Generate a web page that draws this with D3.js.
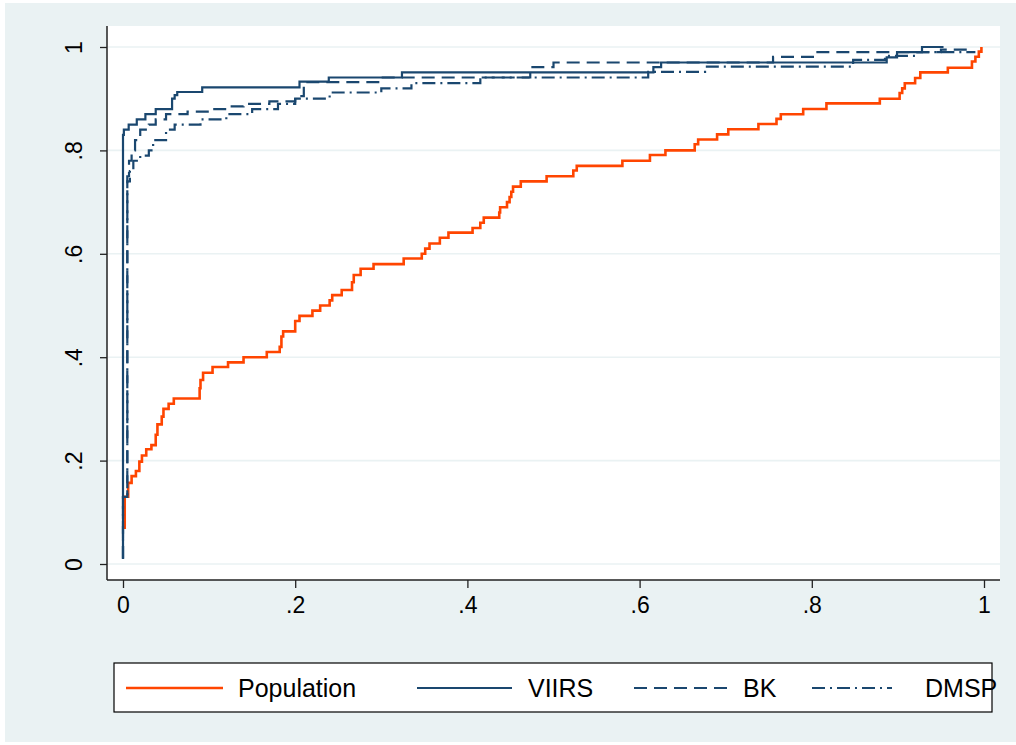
<!DOCTYPE html>
<html>
<head>
<meta charset="utf-8">
<script src="https://cdn.jsdelivr.net/npm/d3@7"></script>
<style>
  body { margin: 0; background: #fff; }
  text { font-family: "Liberation Sans", Arial, Helvetica, sans-serif; fill: #000; }
</style>
</head>
<body>
<div class="chart"></div>
<script>
// step points [x, y]: at x the curve jumps to y
let population = [
  [0, 0.07], [0.002, 0.13], [0.006, 0.157], [0.01, 0.17], [0.015, 0.18], [0.019, 0.198],
  [0.022, 0.21], [0.027, 0.222], [0.033, 0.23], [0.038, 0.25], [0.04, 0.27], [0.045, 0.285],
  [0.047, 0.30], [0.053, 0.31], [0.059, 0.32], [0.089, 0.34], [0.09, 0.356], [0.093, 0.37],
  [0.104, 0.381], [0.122, 0.39], [0.14, 0.40], [0.167, 0.41], [0.182, 0.42], [0.184, 0.44],
  [0.186, 0.45], [0.2, 0.47], [0.205, 0.48], [0.22, 0.49], [0.229, 0.50], [0.24, 0.51],
  [0.243, 0.52], [0.254, 0.53], [0.266, 0.545], [0.268, 0.559], [0.276, 0.571], [0.291, 0.58],
  [0.326, 0.591], [0.347, 0.60], [0.351, 0.61], [0.356, 0.62], [0.368, 0.631], [0.378, 0.641],
  [0.406, 0.65], [0.415, 0.66], [0.419, 0.67], [0.437, 0.68], [0.438, 0.69], [0.446, 0.70],
  [0.449, 0.71], [0.451, 0.72], [0.453, 0.73], [0.462, 0.74], [0.492, 0.75], [0.523, 0.761],
  [0.527, 0.77], [0.58, 0.78], [0.612, 0.791], [0.63, 0.80], [0.664, 0.812], [0.668, 0.821],
  [0.69, 0.831], [0.703, 0.841], [0.738, 0.851], [0.759, 0.861], [0.764, 0.87], [0.79, 0.88],
  [0.817, 0.891], [0.879, 0.90], [0.902, 0.911], [0.905, 0.92], [0.908, 0.93], [0.92, 0.94],
  [0.926, 0.951], [0.958, 0.96], [0.986, 0.972], [0.99, 0.981], [0.994, 0.991], [0.997, 1.0]
];

let viirs = [
  [0, 0.01], [0, 0.83], [0.001, 0.84], [0.0066, 0.85], [0.016, 0.86], [0.026, 0.87],
  [0.038, 0.88], [0.057, 0.90], [0.06, 0.907], [0.063, 0.913], [0.092, 0.922], [0.205, 0.933],
  [0.239, 0.941], [0.324, 0.951], [0.616, 0.961], [0.625, 0.97], [0.887, 0.98], [0.899, 0.99],
  [0.928, 1.0], [0.953, 1.0]
];

let bk = [
  [0, 0.01], [0, 0.13], [0.005, 0.13], [0.005, 0.75], [0.007, 0.78], [0.01, 0.80],
  [0.014, 0.82], [0.02, 0.84], [0.03, 0.85], [0.038, 0.86], [0.05, 0.87], [0.075, 0.875],
  [0.1, 0.88], [0.12, 0.885], [0.14, 0.89], [0.17, 0.895], [0.2, 0.905], [0.21, 0.932],
  [0.298, 0.941], [0.473, 0.961], [0.5, 0.97], [0.755, 0.981], [0.804, 0.99], [0.95, 0.99],
  [0.95, 0.995], [0.985, 0.995]
];

let dmsp = [
  [0, 0.01], [0, 0.13], [0.005, 0.13], [0.005, 0.74], [0.008, 0.76], [0.012, 0.78],
  [0.02, 0.79], [0.03, 0.80], [0.035, 0.82], [0.05, 0.84], [0.06, 0.85], [0.09, 0.86],
  [0.12, 0.87], [0.15, 0.88], [0.18, 0.89], [0.2, 0.90], [0.24, 0.912], [0.3, 0.92],
  [0.335, 0.93], [0.415, 0.941], [0.61, 0.952], [0.676, 0.962], [0.848, 0.975],
  [0.885, 0.983], [0.92, 0.99], [0.99, 0.99]
];

let seriesNames = ["Population", "VIIRS", "BK", "DMSP"];
let xTicks = [0, 0.2, 0.4, 0.6, 0.8, 1];
let yTicks = [0, 0.2, 0.4, 0.6, 0.8, 1];

let svgWidth = 1016;
let svgHeight = 745;
let plot = { left: 107, right: 1000, top: 26, bottom: 580 };

let navy = "#1a476f";
let orange = "#ff4500";
let grid = "#eaf2f3";

let svg = d3.select(".chart")
  .append("svg")
  .attr("width", svgWidth)
  .attr("height", svgHeight);

svg.append("rect")
  .attr("x", 5).attr("y", 3)
  .attr("width", svgWidth - 5).attr("height", svgHeight - 6)
  .attr("fill", "#eaf2f3");

svg.append("rect")
  .attr("x", plot.left).attr("y", plot.top)
  .attr("width", plot.right - plot.left).attr("height", plot.bottom - plot.top)
  .attr("fill", "#fff");

let xScale = d3.scaleLinear().domain([0, 1]).range([123, 984]);
let yScale = d3.scaleLinear().domain([0, 1]).range([564, 47]);

let fmt = d => (d === 0 || d === 1) ? String(d) : d3.format(".1f")(d).replace(/^0/, "");

// grid lines
svg.append("g")
  .selectAll("line")
  .data(yTicks)
  .enter()
  .append("line")
  .attr("x1", plot.left + 1).attr("x2", plot.right)
  .attr("y1", d => yScale(d)).attr("y2", d => yScale(d))
  .attr("stroke", grid)
  .attr("stroke-width", 1.6);

// axes
let leftAxis = d3.axisLeft(yScale).tickValues(yTicks).tickSize(7).tickFormat(fmt);
let bottomAxis = d3.axisBottom(xScale).tickValues(xTicks).tickSize(8).tickFormat(fmt);

let yAxisG = svg.append("g")
  .attr("transform", `translate(${plot.left}, 0)`)
  .call(leftAxis);
yAxisG.select(".domain").remove();
yAxisG.selectAll("line").attr("stroke", "#222").attr("stroke-width", 1.3);
yAxisG.selectAll("text")
  .attr("transform", "rotate(-90)")
  .attr("x", 0)
  .attr("y", -25)
  .attr("dy", 0)
  .attr("text-anchor", "middle")
  .style("font-size", "23px")
  .style("font-family", "'Liberation Sans', Arial, sans-serif");

let xAxisG = svg.append("g")
  .attr("transform", `translate(0, ${plot.bottom})`)
  .call(bottomAxis);
xAxisG.select(".domain").remove();
xAxisG.selectAll("line").attr("stroke", "#222").attr("stroke-width", 1.3);
xAxisG.selectAll("text")
  .attr("y", 33)
  .attr("dy", 0)
  .style("font-size", "23px")
  .style("font-family", "'Liberation Sans', Arial, sans-serif");

// axis lines
svg.append("line")
  .attr("x1", plot.left).attr("x2", plot.left)
  .attr("y1", plot.top).attr("y2", plot.bottom)
  .attr("stroke", "#222").attr("stroke-width", 1.5);
svg.append("line")
  .attr("x1", plot.left).attr("x2", plot.right)
  .attr("y1", plot.bottom).attr("y2", plot.bottom)
  .attr("stroke", "#222").attr("stroke-width", 1.5);

let styles = [
  { data: population, color: orange, width: 2.6, dash: null },
  { data: viirs, color: navy, width: 2.2, dash: null },
  { data: bk, color: navy, width: 2.2, dash: "13,7" },
  { data: dmsp, color: navy, width: 2.2, dash: "13,5,2,5" }
];

let line = d3.line()
  .x(d => xScale(d[0]))
  .y(d => yScale(d[1]))
  .curve(d3.curveStepAfter);

svg.append("g")
  .selectAll("path")
  .data(styles)
  .enter()
  .append("path")
  .attr("d", d => line(d.data))
  .attr("fill", "none")
  .attr("stroke", d => d.color)
  .attr("stroke-width", d => d.width)
  .attr("stroke-dasharray", d => d.dash);

// legend
svg.append("rect")
  .attr("x", 114).attr("y", 663)
  .attr("width", 878).attr("height", 49)
  .attr("fill", "#fff")
  .attr("stroke", "#000")
  .attr("stroke-width", 1.2);

let legendPos = [
  { x1: 126, x2: 223, tx: 238 },
  { x1: 417, x2: 512, tx: 528 },
  { x1: 634, x2: 731, tx: 743 },
  { x1: 812, x2: 892, tx: 925 }
];

let legend = svg.append("g")
  .selectAll("g")
  .data(seriesNames)
  .enter()
  .append("g");

legend.append("line")
  .attr("x1", (d, i) => legendPos[i].x1)
  .attr("x2", (d, i) => legendPos[i].x2)
  .attr("y1", 688).attr("y2", 688)
  .attr("stroke", (d, i) => styles[i].color)
  .attr("stroke-width", (d, i) => styles[i].width)
  .attr("stroke-dasharray", (d, i) => styles[i].dash);

legend.append("text")
  .attr("x", (d, i) => legendPos[i].tx)
  .attr("y", 697)
  .style("font-size", "25px")
  .text(d => d);
</script>
</body>
</html>
